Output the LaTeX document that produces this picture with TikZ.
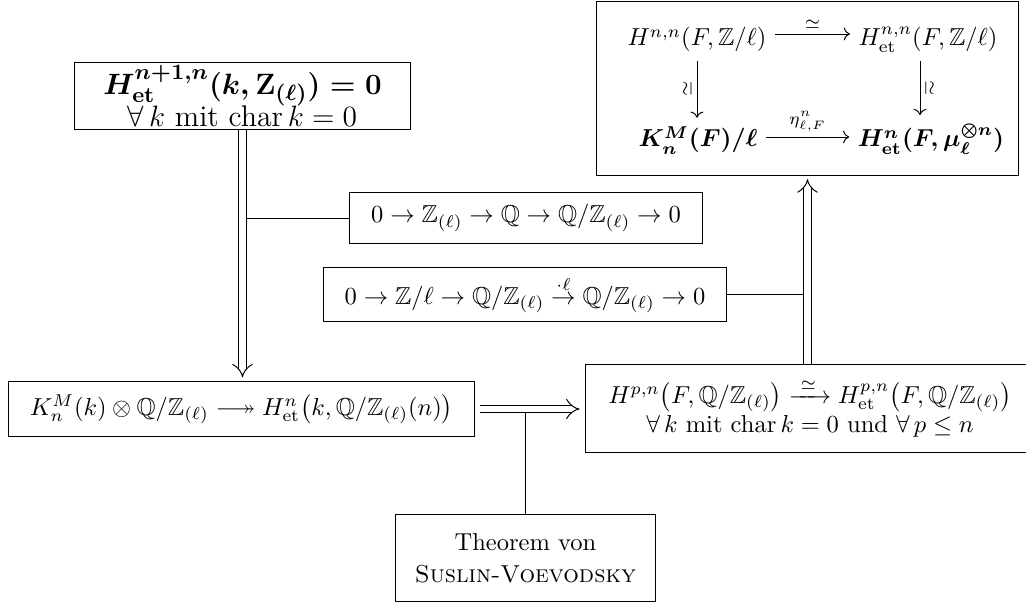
\documentclass[tikz,border=0pt]{standalone}
\usepackage{amsmath,amssymb,graphicx}
\usetikzlibrary{arrows.meta,calc}
\newcommand{\lthra}{\relbar\joinrel\twoheadrightarrow}
\begin{document}
\begin{tikzpicture}[x=0.408pt,y=-0.408pt,
  box/.style={draw, line width=0.4pt, inner sep=0pt, align=center},
  dbl/.style={double, double distance=2.6pt, line width=0.4pt, -{Implies}},
  con/.style={line width=0.4pt},
  cd/.style={-{Computer Modern Rightarrow}, line width=0.4pt},
  lbl/.style={font=\scriptsize, inner sep=2pt}]
\useasboundingbox (0,0) rectangle (1026,605);

% boxes
\node[box, minimum width=136.7pt, minimum height=27.7pt] (tl) at (242.5,96)
  {{\fontsize{13.2}{15}\selectfont $\boldsymbol{H^{n+1,n}_{\mathrm{et}}(k,\mathbf{Z}_{(\ell)})=0}$}\\[-1pt]
   {\fontsize{12.2}{14}\selectfont $\forall\,k$ mit char$\,k=0$}};
\node[box, minimum width=171.8pt, minimum height=70.6pt] (tr) at (807.5,88.5) {};
\node[box, minimum width=144.4pt, minimum height=21.2pt] (z1) at (526,218)
  {$0\to\mathbb{Z}_{(\ell)}\to\mathbb{Q}\to\mathbb{Q}/\mathbb{Z}_{(\ell)}\to0$};
\node[box, minimum width=164.8pt, minimum height=22.4pt] (z2) at (525,294.5)
  {$0\to\mathbb{Z}/\ell\to\mathbb{Q}/\mathbb{Z}_{(\ell)}\stackrel{\cdot\ell}{\to}\mathbb{Q}/\mathbb{Z}_{(\ell)}\to0$};
\node[box, minimum width=190.5pt, minimum height=22.4pt] (bl) at (241.5,409)
  {$K^M_n(k)\otimes\mathbb{Q}/\mathbb{Z}_{(\ell)}\lthra H^n_{\mathrm{et}}\bigl(k,\mathbb{Q}/\mathbb{Z}_{(\ell)}(n)\bigr)$};
\node[box, minimum width=183.6pt, minimum height=35.9pt] (br) at (810,408)
  {$H^{p,n}\bigl(F,\mathbb{Q}/\mathbb{Z}_{(\ell)}\bigr)\xrightarrow{\;\simeq\;}H^{p,n}_{\mathrm{et}}\bigl(F,\mathbb{Q}/\mathbb{Z}_{(\ell)}\bigr)$\\
   $\forall\,k$ mit char$\,k=0$ und $\forall\,p\le n$};
\node[box, minimum width=105.7pt, minimum height=35.1pt] (th) at (525.5,558)
  {Theorem von\\[1pt] \textsc{Suslin-Voevodsky}};

% commutative square
\node[anchor=base] (na) at (697,46) {$H^{n,n}(F,\mathbb{Z}/\ell)$};
\node[anchor=base] (nb) at (928,46) {$H^{n,n}_{\mathrm{et}}(F,\mathbb{Z}/\ell)$};
\node[anchor=base] (nc) at (698,147) {$\boldsymbol{K^M_n(F)/\ell}$};
\node[anchor=base] (nd) at (931,147) {$\boldsymbol{H^n_{\mathrm{et}}(F,\mu_\ell^{\otimes n})}$};
\coordinate (r1) at (0,34);
\coordinate (r2) at (0,137);
\coordinate (xl) at (697,0);
\coordinate (xr) at (920,0);
\draw[cd] (na.east |- r1) -- node[lbl, above]{$\simeq$} (nb.west |- r1);
\draw[cd] (nc.east |- r2) -- node[lbl, above]{$\eta^n_{\ell,F}$} (nd.west |- r2);
\draw[cd] (na.south -| xl) -- node[lbl, left]{\rotatebox{90}{$\simeq$}} (nc.north -| xl);
\draw[cd] (nb.south -| xr) -- node[lbl, right]{\rotatebox{-90}{$\simeq$}} (nd.north -| xr);

% connectors
\draw[dbl, shorten >=1.5pt] (tl.south) -- (tl.south |- bl.north);
\coordinate (j1) at ($(tl.south |- z1.west)+(1.5pt,0)$);
\draw[con] (j1) -- (z1.west);
\draw[dbl, shorten <=2pt, shorten >=2pt] (bl.east) -- (bl.east -| br.west);
\coordinate (j3) at ($(bl.east -| th.north)+(0,-1.5pt)$);
\draw[con] (j3) -- (th.north);
\draw[dbl, shorten >=1.5pt] (br.north -| tr.south) -- (tr.south);
\coordinate (j2) at ($(z2.east -| tr.south)+(-1.5pt,0)$);
\draw[con] (z2.east) -- (j2);
\end{tikzpicture}
\end{document}
